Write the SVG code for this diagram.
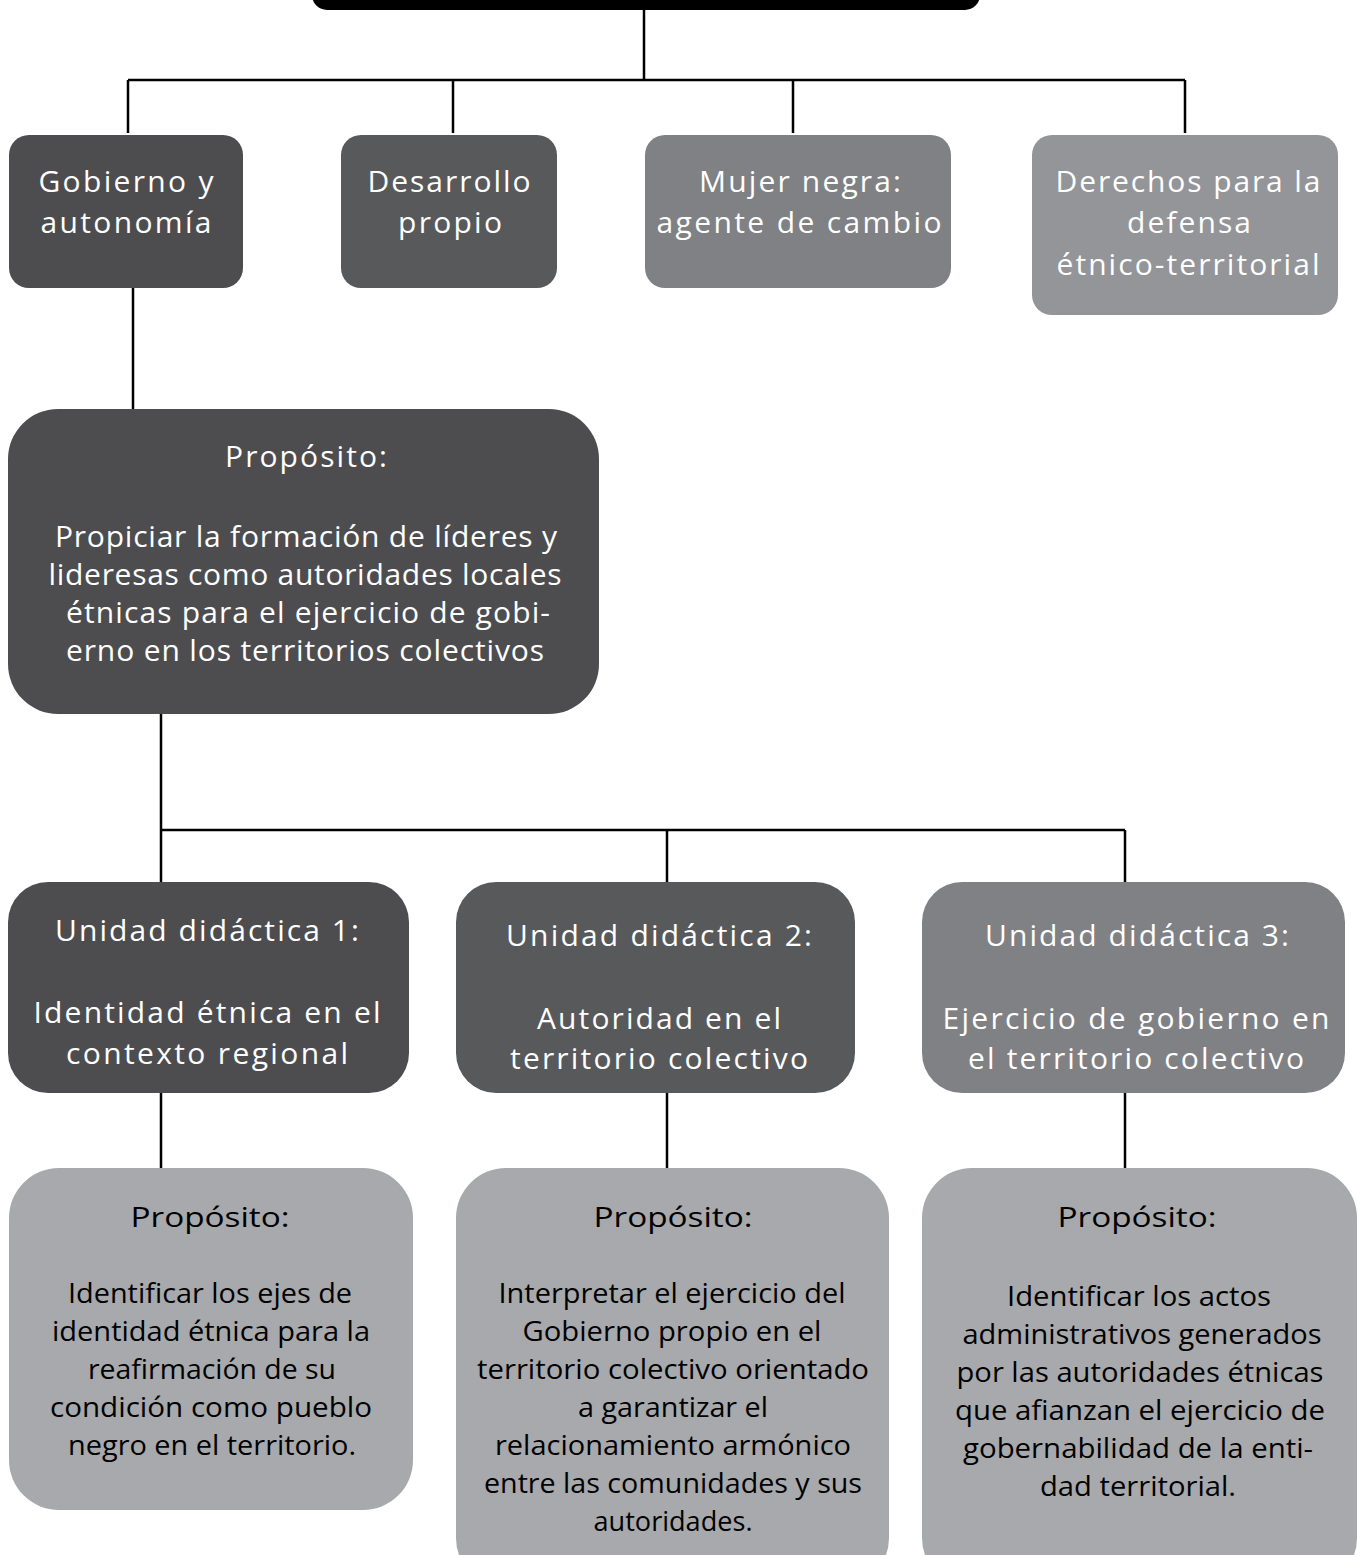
<svg xmlns="http://www.w3.org/2000/svg" width="1365" height="1555" viewBox="0 0 1365 1555">
<style>
.c{fill:none;stroke:#000;stroke-width:2.5}
.t{font-family:"Open Sans","Noto Sans",sans-serif;fill:#fff;text-anchor:middle;font-size:30px}
.b{font-family:"Open Sans","Noto Sans",sans-serif;fill:#000;text-anchor:middle;font-size:28px}
.d1{fill:#4d4d4f}.d2{fill:#58595b}.d3{fill:#808184}.d4{fill:#939598}.d5{fill:#a7a9ac}
</style>
<rect width="1365" height="1555" fill="#fff"/>
<g id="connectors">
<path class="c" d="M644 10V80M128 80H1185M128 80V133M453 80V133M793 80V133M1185 80V133"/>
<path class="c" d="M133 288V410"/>
<path class="c" d="M161 714V830H1125M161 830V882M667 830V882M1125 830V882"/>
<path class="c" d="M161 1093V1170M667 1093V1170M1125 1093V1170"/>
</g>
<g id="root"><rect x="312" y="-40" width="668" height="50" rx="15" fill="#000"/></g>
<g id="n-gobierno"><rect class="d1" x="9" y="135" width="234" height="153" rx="20"/>
<text class="t" x="126" y="192" textLength="175" lengthAdjust="spacing">Gobierno y</text>
<text class="t" x="126" y="233" textLength="171" lengthAdjust="spacing">autonomía</text></g>
<g id="n-desarrollo"><rect class="d2" x="341" y="135" width="216" height="153" rx="20"/>
<text class="t" x="449" y="192" textLength="163" lengthAdjust="spacing">Desarrollo</text>
<text class="t" x="450" y="233" textLength="104" lengthAdjust="spacing">propio</text></g>
<g id="n-mujer"><rect class="d3" x="645" y="135" width="306" height="153" rx="20"/>
<text class="t" x="800" y="192" textLength="202" lengthAdjust="spacing">Mujer negra:</text>
<text class="t" x="799" y="233" textLength="285" lengthAdjust="spacing">agente de cambio</text></g>
<g id="n-derechos"><rect class="d4" x="1032" y="135" width="306" height="180" rx="20"/>
<text class="t" x="1188" y="192" textLength="265" lengthAdjust="spacing">Derechos para la</text>
<text class="t" x="1189" y="233" textLength="124" lengthAdjust="spacing">defensa</text>
<text class="t" x="1188" y="275" textLength="263" lengthAdjust="spacing">étnico-territorial</text></g>
<g id="n-proposito"><rect class="d1" x="8" y="409" width="591" height="305" rx="50"/>
<text class="t" x="306" y="467" font-size="28" textLength="162" lengthAdjust="spacing">Propósito:</text>
<text class="t" x="306" y="547" font-size="28" textLength="502" lengthAdjust="spacing">Propiciar la formación de líderes y</text>
<text class="t" x="305" y="585" font-size="28" textLength="513" lengthAdjust="spacing">lideresas como autoridades locales</text>
<text class="t" x="308" y="623" font-size="28" textLength="484" lengthAdjust="spacing">étnicas para el ejercicio de gobi-</text>
<text class="t" x="305" y="661" font-size="28" textLength="478" lengthAdjust="spacing">erno en los territorios colectivos</text></g>
<g id="n-unidad1"><rect class="d1" x="8" y="882" width="401" height="211" rx="40"/>
<text class="t" x="207" y="941" textLength="304" lengthAdjust="spacing">Unidad didáctica 1:</text>
<text class="t" x="207" y="1023" textLength="347" lengthAdjust="spacing">Identidad étnica en el</text>
<text class="t" x="207" y="1064" textLength="282" lengthAdjust="spacing">contexto regional</text></g>
<g id="n-unidad2"><rect class="d2" x="456" y="882" width="399" height="211" rx="40"/>
<text class="t" x="659" y="946" textLength="306" lengthAdjust="spacing">Unidad didáctica 2:</text>
<text class="t" x="659" y="1029" textLength="244" lengthAdjust="spacing">Autoridad en el</text>
<text class="t" x="659" y="1069" textLength="298" lengthAdjust="spacing">territorio colectivo</text></g>
<g id="n-unidad3"><rect class="d3" x="922" y="882" width="423" height="211" rx="40"/>
<text class="t" x="1137" y="946" textLength="304" lengthAdjust="spacing">Unidad didáctica 3:</text>
<text class="t" x="1136" y="1029" textLength="387" lengthAdjust="spacing">Ejercicio de gobierno en</text>
<text class="t" x="1136" y="1069" textLength="336" lengthAdjust="spacing">el territorio colectivo</text></g>
<g id="n-prop1"><rect class="d5" x="9" y="1168" width="404" height="342" rx="50"/>
<text class="b" x="210" y="1227" font-size="30" textLength="159" lengthAdjust="spacingAndGlyphs">Propósito:</text>
<text class="b" x="210" y="1303" textLength="284" lengthAdjust="spacingAndGlyphs">Identificar los ejes de</text>
<text class="b" x="211" y="1341" textLength="318" lengthAdjust="spacingAndGlyphs">identidad étnica para la</text>
<text class="b" x="212" y="1379" textLength="248" lengthAdjust="spacingAndGlyphs">reafirmación de su</text>
<text class="b" x="211" y="1417" textLength="322" lengthAdjust="spacingAndGlyphs">condición como pueblo</text>
<text class="b" x="212" y="1455" textLength="288" lengthAdjust="spacingAndGlyphs">negro en el territorio.</text></g>
<g id="n-prop2"><rect class="d5" x="456" y="1168" width="433" height="420" rx="50"/>
<text class="b" x="673" y="1227" font-size="30" textLength="159" lengthAdjust="spacingAndGlyphs">Propósito:</text>
<text class="b" x="672" y="1303" textLength="347" lengthAdjust="spacingAndGlyphs">Interpretar el ejercicio del</text>
<text class="b" x="672" y="1341" textLength="299" lengthAdjust="spacingAndGlyphs">Gobierno propio en el</text>
<text class="b" x="673" y="1379" textLength="392" lengthAdjust="spacingAndGlyphs">territorio colectivo orientado</text>
<text class="b" x="673" y="1417" textLength="190" lengthAdjust="spacingAndGlyphs">a garantizar el</text>
<text class="b" x="673" y="1455" textLength="356" lengthAdjust="spacingAndGlyphs">relacionamiento armónico</text>
<text class="b" x="673" y="1493" textLength="378" lengthAdjust="spacingAndGlyphs">entre las comunidades y sus</text>
<text class="b" x="673" y="1531" textLength="159" lengthAdjust="spacingAndGlyphs">autoridades.</text></g>
<g id="n-prop3"><rect class="d5" x="922" y="1168" width="435" height="420" rx="50"/>
<text class="b" x="1137" y="1227" font-size="30" textLength="159" lengthAdjust="spacingAndGlyphs">Propósito:</text>
<text class="b" x="1139" y="1306" textLength="264" lengthAdjust="spacingAndGlyphs">Identificar los actos</text>
<text class="b" x="1142" y="1344" textLength="359" lengthAdjust="spacingAndGlyphs">administrativos generados</text>
<text class="b" x="1140" y="1382" textLength="367" lengthAdjust="spacingAndGlyphs">por las autoridades étnicas</text>
<text class="b" x="1140" y="1420" textLength="370" lengthAdjust="spacingAndGlyphs">que afianzan el ejercicio de</text>
<text class="b" x="1138" y="1458" textLength="350" lengthAdjust="spacingAndGlyphs">gobernabilidad de la enti-</text>
<text class="b" x="1138" y="1496" textLength="196" lengthAdjust="spacingAndGlyphs">dad territorial.</text></g>
</svg>
